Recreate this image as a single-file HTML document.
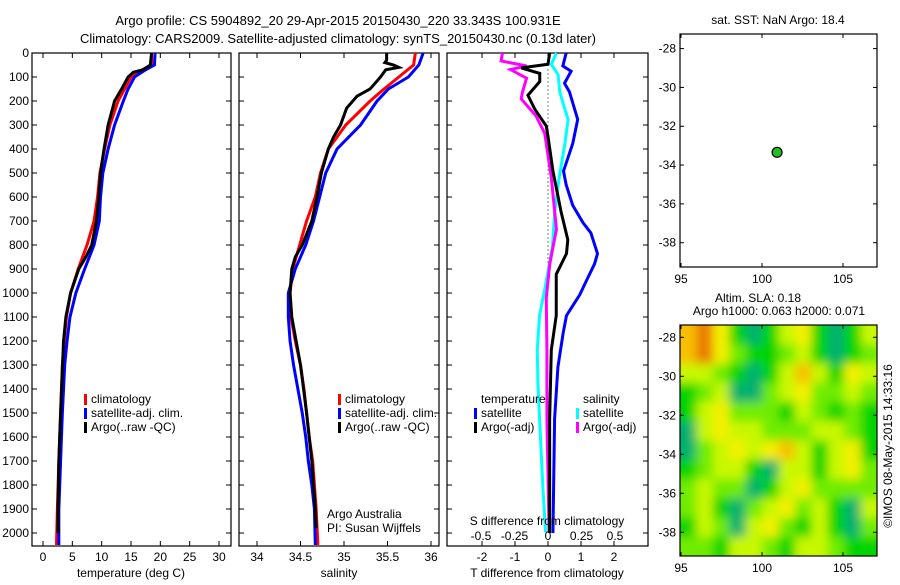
<!DOCTYPE html>
<html><head><meta charset="utf-8"><style>
body{margin:0;background:#fff}
svg text{font-family:"Liberation Sans",sans-serif;font-size:12px;fill:#000}
</style></head><body>
<svg id="chart" width="900" height="580" viewBox="0 0 900 580" xmlns="http://www.w3.org/2000/svg">
<rect width="900" height="580" fill="#fff"/>
<text x="338" y="25" text-anchor="middle" style="font-size:13px">Argo profile: CS 5904892_20 29-Apr-2015 20150430_220 33.343S 100.931E</text>
<text x="338" y="43" text-anchor="middle" style="font-size:13px">Climatology: CARS2009. Satellite-adjusted climatology: synTS_20150430.nc (0.13d later)</text>
<g id="g"></g>
</svg>
<script>
// ---- data ----
const tDepth = [0,50,70,100,150,200,300,400,500,600,700,800,900,1000,1100,1200,1300,1500,1700,1900,2050];
const tClim  = [18.5,18.5,17,15,13.9,12.8,11.4,10.5,9.7,9.3,8.7,7.5,6,4.7,4,3.6,3.3,3,2.7,2.45,2.3];
const tSat   = [19.1,19,17.5,15.6,14.5,13.7,12.2,11.1,10.2,9.8,9.6,8.7,7.1,5.6,4.6,4.1,3.7,3.3,3,2.7,2.7];
const argoTDepth = [0,50,70,80,100,150,200,300,400,500,600,700,800,850,900,1000,1100,1200,1500,1700,1900,2000];
const argoT  = [18.5,18.3,17,15.4,14.5,13.4,12.2,11.1,10.4,9.8,9.5,9.1,8.3,7.3,6.1,4.7,3.9,3.5,3,2.7,2.55,2.55];
const sDepth = [0,50,100,150,200,300,400,500,600,700,800,900,1000,1100,1200,1300,1400,1500,1600,1700,1800,1900,2050];
const sClim  = [35.82,35.8,35.63,35.46,35.3,35.02,34.82,34.73,34.67,34.57,34.49,34.41,34.38,34.39,34.44,34.5,34.54,34.57,34.6,34.64,34.66,34.68,34.7];
const sSat   = [35.91,35.86,35.74,35.51,35.38,35.19,34.92,34.79,34.72,34.65,34.56,34.44,34.36,34.36,34.38,34.42,34.47,34.52,34.56,34.59,34.63,34.66,34.67];
const argoSDepth = [0,30,40,50,60,70,100,150,180,230,300,350,400,500,600,700,800,850,900,1000,1100,1200,1300,1500,1700,1900,1980];
const argoS  = [35.49,35.49,35.47,35.57,35.63,35.48,35.42,35.3,35.15,35.03,34.96,34.88,34.82,34.74,34.69,34.63,34.52,34.44,34.4,34.38,34.4,34.45,34.5,34.57,34.63,34.67,34.68];
const dTSatDepth = [0,54,76,126,162,277,377,492,549,635,707,750,836,879,950,1008,1094,1166,1309,1524,2000];
const dTSat  = [0.55,0.45,0.7,0.5,0.65,0.9,0.75,0.47,0.55,0.75,1.06,1.3,1.5,1.41,1.16,0.96,0.56,0.46,0.3,0.2,0.15];
const dTArgoDepth = [0,47,62,85,119,176,234,305,348,492,664,778,836,922,1094,1237,1524,2000];
const dTArgo = [0.05,0,-0.81,-0.25,-0.25,-0.61,-0.4,-0.05,0,0.15,0.4,0.6,0.56,0.25,0.25,0.1,0.05,0.05];
const dSSatDepth = [0,47,90,162,234,277,377,520,664,807,951,1094,1237,1381,1524,1811,1997];
const dSSat  = [0.063,0.025,0.075,0.088,0.126,0.15,0.126,0.083,0.05,0.033,-0.013,-0.063,-0.08,-0.075,-0.063,-0.038,-0.018];
const dSArgoDepth = [0,33,54,69,105,162,191,262,334,377,520,735,879,1022,1237,1524,1997];
const dSArgo = [-0.34,-0.35,-0.16,-0.28,-0.16,-0.19,-0.2,-0.09,-0.025,-0.013,0.025,0.063,0.013,-0.013,-0.008,-0.008,0.008];
const depthTicks = [0,100,200,300,400,500,600,700,800,900,1000,1100,1200,1300,1400,1500,1600,1700,1800,1900,2000];
const tTicks = [0,5,10,15,20,25,30];
const sTicks = [34,34.5,35,35.5,36];
const dTTicks = [-2,-1,0,1,2];
const dSTicks = [-0.5,-0.25,0,0.25,0.5];
const latTicks = [-28,-30,-32,-34,-36,-38];
const lonTicks = [95,100,105];
const argoLon = 100.931, argoLat = -33.343;
// SLA heatmap rows (north to south), levels 0..6
const slaRows = [
 [5,6,4,1,0,1,3,4,1,0,1,3],
 [5,6,4,2,1,1,2,3,1,0,1,2],
 [3,3,2,1,0,1,3,5,3,1,4,3],
 [1,2,3,0,0,2,3,4,2,2,3,2],
 [1,3,4,2,2,2,1,3,2,1,2,1],
 [0,3,4,3,3,2,2,2,3,3,2,1],
 [0,2,3,4,3,4,5,3,1,3,4,1],
 [1,2,3,3,1,0,3,3,1,3,4,2],
 [2,3,2,2,0,1,3,4,2,2,2,2],
 [2,3,1,0,2,3,4,2,3,1,0,3],
 [1,3,2,0,3,4,2,1,3,1,0,2],
 [2,2,1,3,3,2,1,3,3,2,1,1]];
const slaColors = ['#00b070','#00d400','#70ec00','#c8f800','#f4f000','#f8c000','#e87800'];

// ---- drawing ----
const NS='http://www.w3.org/2000/svg';
const G=document.getElementById('g');
function mk(tag,attrs,parent){const e=document.createElementNS(NS,tag);for(const k in attrs)e.setAttribute(k,attrs[k]);(parent||G).appendChild(e);return e;}
const TOP=53, BOT=546;
const yD = d => 53 + d*0.24;
function lin(d0,d1,r0,r1){return v=>r0+(v-d0)*(r1-r0)/(d1-d0);}
const xT = lin(0,30,43,219);
const xS = lin(34,36,257,431);
const xDT = lin(0,2,548,614);
const xDS = lin(0,0.5,548,615);

function frame(x0,x1,name){
  const r=mk('rect',{x:x0,y:TOP,width:x1-x0,height:BOT-TOP,fill:'none',stroke:'#000','stroke-width':1.2});
  
  
  depthTicks.forEach(d=>{mk('line',{x1:x0,x2:x0+5,y1:yD(d),y2:yD(d),stroke:'#000'});mk('line',{x1:x1,x2:x1-5,y1:yD(d),y2:yD(d),stroke:'#000'});});
}
function xticks(vals,f,x0,name,y){
  vals.forEach(v=>{const x=f(v);mk('line',{x1:x,x2:x,y1:BOT,y2:BOT-5,stroke:'#000'});mk('line',{x1:x,x2:x,y1:TOP,y2:TOP+5,stroke:'#000'});
   const t=mk('text',{x:x,y:y,'text-anchor':'middle'});t.textContent=v;
   
   });
}
function line(xs,ds,f,color,name,w){
  const p=mk('polyline',{points:xs.map((v,i)=>f(v)+','+yD(ds[i])).join(' '),fill:'none',stroke:color,'stroke-width':w||3,'stroke-linejoin':'miter'});
  
  
}
function label(x,y,s,name,anchor){const t=mk('text',{x:x,y:y,'text-anchor':anchor||'start'});t.textContent=s;
  
  return t;}
function legend(x,y,color,s,name){
  const r=mk('rect',{x:x,y:y-9,width:3,height:11,fill:color});
  
  
  label(x+7,y,s,name);
}

// panel 1
frame(32,231,'temperature-panel');
depthTicks.forEach(d=>{label(29,yD(d)+4,String(d),'depth-tick-label','end');});
xticks(tTicks,xT,32,'temperature-tick-label',561);
label(131,577,'temperature (deg C)','temperature-axis-title','middle');
line(tClim,tDepth,xT,'#ff0000','temp-climatology-line');
line(tSat,tDepth,xT,'#0000ff','temp-satellite-line');
line(argoT,argoTDepth,xT,'#000000','temp-argo-line');
legend(84,403,'#ff0000','climatology','legend-climatology');
legend(84,417,'#0000ff','satellite-adj. clim.','legend-satellite-adj');
legend(84,431,'#000000','Argo(..raw -QC)','legend-argo');

// panel 2
frame(239,439,'salinity-panel');
xticks(sTicks,xS,239,'salinity-tick-label',561);
label(339,577,'salinity','salinity-axis-title','middle');
line(sClim,sDepth,xS,'#ff0000','sal-climatology-line');
line(sSat,sDepth,xS,'#0000ff','sal-satellite-line');
line(argoS,argoSDepth,xS,'#000000','sal-argo-line');
legend(338,403,'#ff0000','climatology','legend-sal-climatology');
legend(338,417,'#0000ff','satellite-adj. clim.','legend-sal-satellite-adj');
legend(338,431,'#000000','Argo(..raw -QC)','legend-sal-argo');
label(327,518,'Argo Australia','credit-argo-australia');
label(327,532,'PI: Susan Wijffels','credit-pi');

// panel 3
frame(447,648,'difference-panel');
xticks(dTTicks,xDT,447,'t-diff-tick-label',561);
label(547,577,'T difference from climatology','t-diff-axis-title','middle');
const z=mk('line',{x1:548,x2:548,y1:yD(69),y2:yD(936),stroke:'#000','stroke-dasharray':'1,3'});


line(dTSat,dTSatDepth,xDT,'#0000ff','dt-satellite-line');
line(dSSat,dSSatDepth,xDS,'#00ffff','ds-satellite-line');
line(dSArgo,dSArgoDepth,xDS,'#ff00ff','ds-argo-line');
line(dTArgo,dTArgoDepth,xDT,'#000000','dt-argo-line');
label(481,403,'temperature','legend-temperature-heading');
legend(474,417,'#0000ff','satellite','legend-t-satellite');
legend(474,431,'#000000','Argo(-adj)','legend-t-argo');
label(583,403,'salinity','legend-salinity-heading');
legend(576,417,'#00ffff','satellite','legend-s-satellite');
legend(576,431,'#ff00ff','Argo(-adj)','legend-s-argo');
label(547,525,'S difference from climatology','s-diff-axis-title','middle');
dSTicks.forEach(v=>{label(xDS(v),540,String(v),'s-diff-tick-label','middle');});

// maps
const mx0=680,mx1=877;
const xLon=lin(95,105,681,843);
const y1Lat=lin(-28,-38,48.6,242.7);
const y2Lat=lin(-28,-38,337.3,532.3);
function mapFrame(y0,y1,yl,name){
  const r=mk('rect',{x:mx0,y:y0,width:mx1-mx0,height:y1-y0,fill:'none',stroke:'#000','stroke-width':1.2});
  
  
  latTicks.forEach(v=>{const y=yl(v);mk('line',{x1:mx0,x2:mx0+4,y1:y,y2:y,stroke:'#000'});mk('line',{x1:mx1,x2:mx1-4,y1:y,y2:y,stroke:'#000'});
    label(676,y+4,String(v),'lat-tick-label','end');});
  lonTicks.forEach(v=>{const x=xLon(v);mk('line',{x1:x,x2:x,y1:y1,y2:y1-4,stroke:'#000'});mk('line',{x1:x,x2:x,y1:y0,y2:y0+4,stroke:'#000'});
    label(x,y1+16,String(v),'lon-tick-label','middle');});
}
label(778,24,'sat. SST: NaN Argo: 18.4','sst-title','middle');
const m1y0=34,m1y1=267;
const dot=mk('circle',{cx:xLon(argoLon),cy:y1Lat(argoLat),r:5,fill:'#20c020',stroke:'#000','stroke-width':1.2});


mapFrame(m1y0,m1y1,y1Lat,'sst-map');

label(758,302,'Altim. SLA: 0.18','sla-title','middle');
label(779,315,'Argo h1000: 0.063 h2000: 0.071','steric-height-title','middle');
const m2y0=325,m2y1=556;
const defs=mk('defs',{});
const cp=mk('clipPath',{id:'clip2'},defs);mk('rect',{x:mx0,y:m2y0,width:mx1-mx0,height:m2y1-m2y0},cp);
const fl=mk('filter',{id:'blur',filterUnits:'userSpaceOnUse',x:mx0-30,y:m2y0-30,width:mx1-mx0+60,height:m2y1-m2y0+60},defs);mk('feGaussianBlur',{stdDeviation:5},fl);
const hg=mk('g',{'clip-path':'url(#clip2)'});
const hg2=mk('g',{filter:'url(#blur)'},hg);
const nr=slaRows.length,nc=slaRows[0].length;
const cw=(mx1-mx0)/nc, ch=(m2y1-m2y0)/nr;
mk('rect',{x:mx0-20,y:m2y0-20,width:mx1-mx0+40,height:m2y1-m2y0+40,fill:slaColors[2]},hg2);
slaRows.forEach((row,r)=>row.forEach((v,c)=>{
  const cell=mk('rect',{x:mx0+c*cw-(c==0?12:0),y:m2y0+r*ch-(r==0?12:0),width:cw+1+(c==0||c==nc-1?12:0),height:ch+1+(r==0||r==nr-1?12:0),fill:slaColors[v]},hg2);
  
  
}));
mapFrame(m2y0,m2y1,y2Lat,'sla-map');
const im=label(892,446,'©IMOS 08-May-2015 14:33:16','imos-timestamp','middle');
im.setAttribute('transform','rotate(-90 892 446)');
</script>
</body></html>
